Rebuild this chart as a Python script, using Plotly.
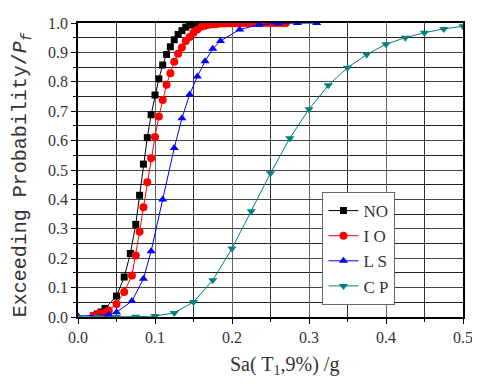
import plotly.graph_objects as go

# ---- data ----
no_x = [0.02, 0.025, 0.03, 0.035, 0.05, 0.06, 0.068, 0.075, 0.08, 0.085, 0.09,
        0.095, 0.10, 0.105, 0.11, 0.115, 0.12, 0.125, 0.13, 0.135, 0.14, 0.145,
        0.15, 0.155, 0.16, 0.165, 0.17, 0.175]
no_y = [0.004, 0.010, 0.017, 0.029, 0.071, 0.136, 0.216, 0.315, 0.414, 0.52, 0.61,
        0.688, 0.755, 0.81, 0.857, 0.893, 0.919, 0.943, 0.961, 0.974, 0.986, 0.993,
        0.997, 0.999, 1.0, 1.0, 1.0, 1.0]

io_x = [0.02, 0.027, 0.035, 0.04, 0.05, 0.06, 0.07, 0.075, 0.08, 0.085, 0.09,
        0.095, 0.10, 0.105, 0.11, 0.115, 0.12, 0.125, 0.13, 0.135, 0.14, 0.145,
        0.15, 0.155, 0.16, 0.165, 0.17, 0.175, 0.18, 0.185, 0.19, 0.195, 0.20,
        0.205, 0.21, 0.215, 0.22, 0.225, 0.23, 0.235, 0.24, 0.245, 0.25, 0.255,
        0.26, 0.265, 0.27]
io_y = [0.003, 0.012, 0.014, 0.022, 0.044, 0.085, 0.141, 0.209, 0.29, 0.373, 0.458,
        0.54, 0.612, 0.682, 0.738, 0.79, 0.829, 0.868, 0.895, 0.917, 0.939, 0.952,
        0.967, 0.978, 0.987, 0.991, 0.994, 0.996, 0.997, 0.998, 0.998, 0.999, 0.999,
        0.999, 1.0, 1.0, 1.0, 1.0, 1.0, 1.0, 1.0, 1.0, 1.0, 1.0,
        1.0, 1.0, 1.0]

ls_x = [0.0, 0.04, 0.05, 0.07, 0.085, 0.095, 0.11, 0.125, 0.135, 0.145, 0.155,
        0.165, 0.175, 0.185, 0.21, 0.235, 0.26, 0.285, 0.31]
ls_y = [0.003, 0.008, 0.016, 0.054, 0.13, 0.224, 0.40, 0.575, 0.676, 0.757, 0.818,
        0.87, 0.912, 0.939, 0.978, 0.994, 0.999, 1.0, 1.0]

cp_x = [0.0, 0.025, 0.05, 0.075, 0.10, 0.125, 0.15, 0.175, 0.20, 0.225, 0.25,
        0.275, 0.30, 0.325, 0.35, 0.375, 0.40, 0.425, 0.45, 0.475, 0.50]
cp_y = [0.0, 0.0, 0.0, 0.001, 0.003, 0.014, 0.051, 0.125, 0.233, 0.36, 0.489,
        0.608, 0.707, 0.788, 0.848, 0.893, 0.928, 0.95, 0.967, 0.98, 0.989]

x_ticks = [0.0, 0.1, 0.2, 0.3, 0.4, 0.5]
y_ticks = [0.0, 0.1, 0.2, 0.3, 0.4, 0.5, 0.6, 0.7, 0.8, 0.9, 1.0]

SERIF = "Liberation Serif, Times New Roman, serif"
MONO = "Liberation Mono, Courier New, monospace"
TXT = "#333333"

series = [
    ("NO",  no_x, no_y, "#000000", "square", 7),
    ("I O", io_x, io_y, "#ff0000", "circle", 8),
    ("L S", ls_x, ls_y, "#0000ff", "triangle-up", 8),
    ("C P", cp_x, cp_y, "#008080", "triangle-down", 8),
]

fig = go.Figure()
for name, xs, ys, color, sym, size in series:
    fig.add_trace(go.Scatter(
        x=xs, y=ys, name=name, mode="lines+markers",
        line=dict(color=color, width=1),
        marker=dict(symbol=sym, size=size, color=color),
    ))

axis_common = dict(
    showline=True, linecolor="#000000", linewidth=1.5, mirror=True,
    ticks="outside", ticklen=5, tickcolor="#000000",
    showgrid=True, gridwidth=1,
    zeroline=False,
    tickfont=dict(family=SERIF, size=16, color=TXT),
)

fig.update_xaxes(
    range=[0, 0.5], tickvals=x_ticks, ticktext=[f"{v:.1f}" for v in x_ticks],
    gridcolor="#666666",
    minor=dict(ticks="outside", ticklen=3, tickcolor="#000000",
               showgrid=True, gridcolor="#333333", gridwidth=1, dtick=0.05),
    **axis_common,
)
fig.update_yaxes(
    range=[0, 1.0], tickvals=y_ticks, ticktext=[f"{v:.1f}" for v in y_ticks],
    gridcolor="#444444",
    minor=dict(ticks="outside", ticklen=3, tickcolor="#000000",
               showgrid=True, gridcolor="#222222", gridwidth=1, dtick=0.05),
    **axis_common,
)

# axis titles placed as annotations to match the reference positions
fig.add_annotation(
    text="Sa( T<sub>1</sub>,9%) /g", xref="paper", yref="paper",
    x=0.537, y=-0.165, xanchor="center", yanchor="middle", showarrow=False,
    font=dict(family=SERIF, size=20, color=TXT),
)
fig.add_annotation(
    text="Exceeding Probability/<i>P<sub>f</sub></i>", xref="paper", yref="paper",
    x=-0.146, y=0.485, xanchor="center", yanchor="middle", showarrow=False,
    textangle=-90, font=dict(family=MONO, size=20, color=TXT),
)

# page body adds an 8px margin, so the figure is drawn 8px smaller
fig.update_layout(
    width=472, height=378,
    margin=dict(l=70, r=13, t=7, b=69),
    paper_bgcolor="white", plot_bgcolor="white",
    showlegend=True,
    legend=dict(
        x=0.635, y=0.425, xanchor="left", yanchor="top",
        bgcolor="white", bordercolor="#666666", borderwidth=1,
        font=dict(family=SERIF, size=17, color=TXT),
        tracegroupgap=0,
    ),
)

fig.write_html("out.html")
